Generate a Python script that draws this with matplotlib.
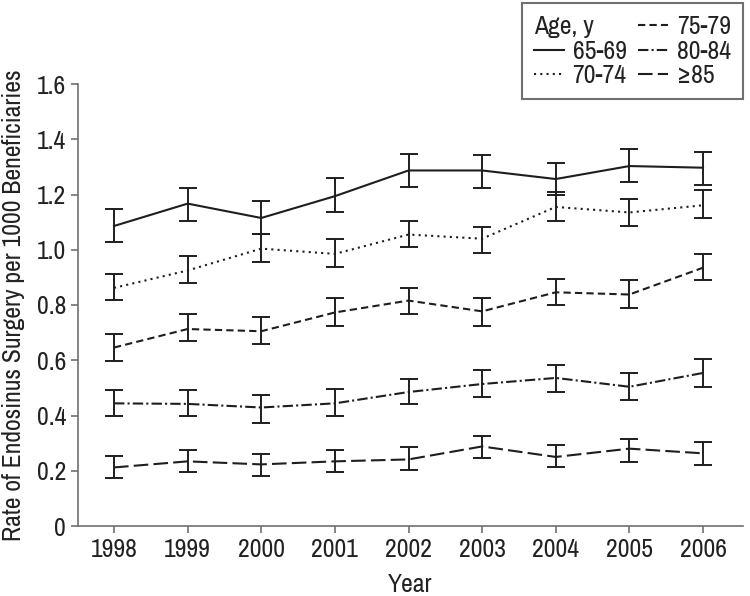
import matplotlib
matplotlib.use("Agg")
import matplotlib.pyplot as plt
from matplotlib.lines import Line2D

plt.rcParams['font.family'] = ['Archivo Narrow', 'DejaVu Sans']

years = [1998, 1999, 2000, 2001, 2002, 2003, 2004, 2005, 2006]
labels = ["65-69", "70-74", "75-79", "80-84", "\u226585"]

r65 = [1.086, 1.167, 1.115, 1.194, 1.287, 1.287, 1.256, 1.303, 1.297]
r65_lo = [1.028, 1.104, 1.057, 1.136, 1.227, 1.225, 1.199, 1.247, 1.235]
r65_hi = [1.147, 1.222, 1.176, 1.258, 1.345, 1.343, 1.315, 1.364, 1.353]

r70 = [0.862, 0.925, 1.004, 0.985, 1.055, 1.040, 1.155, 1.135, 1.161]
r70_lo = [0.819, 0.878, 0.955, 0.938, 1.010, 0.987, 1.104, 1.085, 1.115]
r70_hi = [0.914, 0.976, 1.058, 1.039, 1.104, 1.082, 1.210, 1.185, 1.216]

r75 = [0.646, 0.713, 0.705, 0.773, 0.816, 0.777, 0.846, 0.838, 0.935]
r75_lo = [0.599, 0.669, 0.658, 0.725, 0.767, 0.725, 0.800, 0.788, 0.889]
r75_hi = [0.696, 0.766, 0.756, 0.824, 0.862, 0.824, 0.895, 0.889, 0.984]

r80 = [0.444, 0.442, 0.429, 0.444, 0.485, 0.514, 0.536, 0.504, 0.554]
r80_lo = [0.398, 0.398, 0.373, 0.399, 0.440, 0.467, 0.485, 0.457, 0.504]
r80_hi = [0.493, 0.493, 0.473, 0.495, 0.533, 0.566, 0.583, 0.553, 0.606]

r85 = [0.212, 0.234, 0.223, 0.234, 0.241, 0.288, 0.250, 0.280, 0.263]
r85_lo = [0.172, 0.194, 0.182, 0.194, 0.204, 0.245, 0.212, 0.230, 0.221]
r85_hi = [0.255, 0.276, 0.262, 0.276, 0.287, 0.325, 0.293, 0.314, 0.303]

series = [(r65, r65_lo, r65_hi), (r70, r70_lo, r70_hi), (r75, r75_lo, r75_hi),
          (r80, r80_lo, r80_hi), (r85, r85_lo, r85_hi)]
styles = ['-', (0, (1, 2)), (0, (3.5, 2)), (0, (5, 1.5, 1, 1.5)), (0, (7, 2.5))]

ink = '#1e1e1e'
axcol = '#707070'
txtcol = '#222222'
fs = 18.5

fig = plt.figure(figsize=(7.5, 5.96), dpi=100)
ax = fig.add_axes([78/750, 1-526/596, (743-78)/750, (526-84)/596])

handles = []
for (v, lo, hi), ls, lab in zip(series, styles, labels):
    yerr = [[a - b for a, b in zip(v, lo)], [b - a for a, b in zip(v, hi)]]
    ax.errorbar(years, v, yerr=yerr, fmt='none', ecolor=ink, elinewidth=1.4,
                capsize=6.5, capthick=1.4)
    ax.plot(years, v, color=ink, lw=1.5, linestyle=ls)
    handles.append(Line2D([], [], color=ink, lw=1.5, linestyle=ls))

ax.set_xlim(1997.511, 2006.543)
ax.set_ylim(0, 1.6)
ax.set_xticks(years)
ax.set_yticks([0, 0.2, 0.4, 0.6, 0.8, 1.0, 1.2, 1.4, 1.6])
ax.set_yticklabels(['0', '0.2', '0.4', '0.6', '0.8', '1.0', '1.2', '1.4', '1.6'])
for s in ['top', 'right']:
    ax.spines[s].set_visible(False)
for s in ['left', 'bottom']:
    ax.spines[s].set_color(axcol)
    ax.spines[s].set_linewidth(1.2)
ax.tick_params(axis='both', colors=axcol, length=5, width=1.2, labelsize=fs,
               labelcolor=txtcol, pad=3.5)
ax.set_xlabel('Year', fontsize=fs, color=txtcol)
ax.xaxis.set_label_coords(0.5, -(585 - 526) / (526 - 84))
ax.xaxis.label.set_va('center')
ax.set_ylabel('Rate of Endosinus Surgery per 1000 Beneficiaries', fontsize=fs,
              color=txtcol)
ax.yaxis.set_label_coords((14 - 78) / (743 - 78), 0.5)
ax.yaxis.label.set_va('center')

blank = Line2D([], [], color='none')
leg_handles = [blank, handles[0], handles[1], handles[2], handles[3], handles[4]]
leg_labels = [' ', labels[0], labels[1], labels[2], labels[3], labels[4]]
leg = fig.legend(leg_handles, leg_labels, ncol=2, loc='upper right',
                 bbox_to_anchor=(743/750, 1-3/596), fontsize=fs,
                 frameon=True, fancybox=False, framealpha=1, edgecolor=axcol,
                 handlelength=1.15, handletextpad=0.35, columnspacing=0.45,
                 labelspacing=0.05, borderpad=0.48, borderaxespad=0)
leg.get_frame().set_linewidth(1.5)
for t in leg.get_texts():
    t.set_color(txtcol)

fig.canvas.draw()
r = fig.canvas.get_renderer()
hx = leg.legend_handles[1].get_window_extent(r).x0
ty = leg.get_texts()[0].get_window_extent(r)
fig.text(hx / fig.bbox.width, (ty.y0 + ty.y1) / 2 / fig.bbox.height, 'Age, y',
         fontsize=fs, color=txtcol, ha='left', va='center', zorder=10)

fig.savefig('out.png', dpi=100)
